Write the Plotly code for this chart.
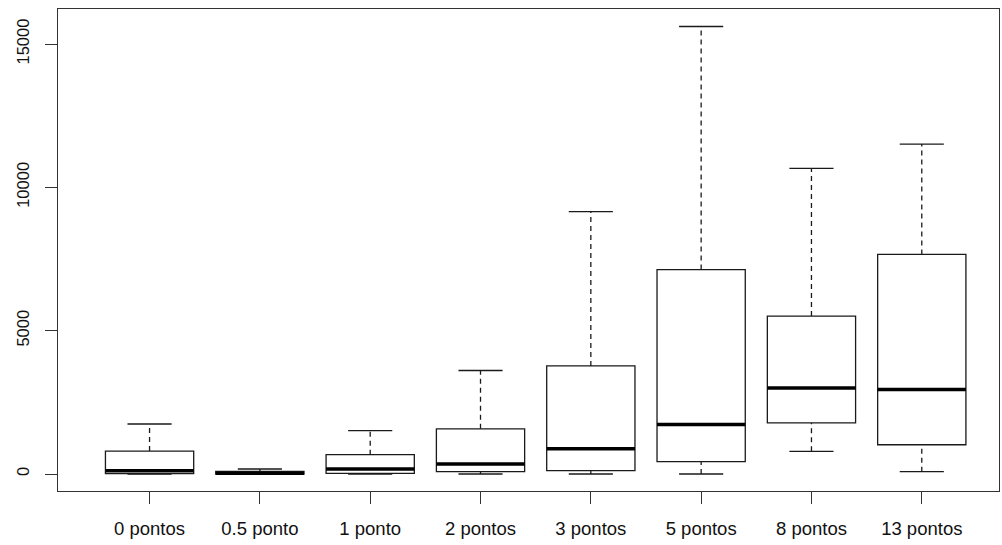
import plotly.graph_objects as go

# Group labels and five-number summaries per group
categories = ["0 pontos", "0.5 ponto", "1 ponto", "2 pontos",
              "3 pontos", "5 pontos", "8 pontos", "13 pontos"]
mins    = [0,    0,   0,    0,    0,    0,     790,   80]
q1s     = [10,   0,   25,   80,   115,  430,   1780,  1020]
medians = [115,  30,  175,  350,  885,  1730,  3000,  2950]
q3s     = [800,  95,  675,  1575, 3770, 7130,  5510,  7660]
maxs    = [1745, 175, 1510, 3610, 9150, 15610, 10660, 11510]

y_ticks = [0, 5000, 10000, 15000]

pos = list(range(len(categories)))
BOX_HALF = 0.4
CAP_HALF = 0.2
INK = "#1a1a1a"

fig = go.Figure()

# Boxes (hinges only; whiskers are drawn separately as dashed lines)
fig.add_trace(go.Box(
    x=pos, q1=q1s, median=medians, q3=q3s,
    lowerfence=q1s, upperfence=q3s,
    width=2 * BOX_HALF, whiskerwidth=0,
    fillcolor="white", line=dict(color=INK, width=1.3),
    boxpoints=False, showlegend=False, hoverinfo="skip",
))

# Dashed whiskers
wx, wy = [], []
for p, lo, a, b, hi in zip(pos, mins, q1s, q3s, maxs):
    wx += [p, p, None, p, p, None]
    wy += [b, hi, None, lo, a, None]
fig.add_trace(go.Scatter(x=wx, y=wy, mode="lines",
                         line=dict(color=INK, width=1.3, dash="5px,4px"),
                         showlegend=False, hoverinfo="skip"))

# Whisker caps
cx, cy = [], []
for p, lo, hi in zip(pos, mins, maxs):
    cx += [p - CAP_HALF, p + CAP_HALF, None, p - CAP_HALF, p + CAP_HALF, None]
    cy += [hi, hi, None, lo, lo, None]
fig.add_trace(go.Scatter(x=cx, y=cy, mode="lines",
                         line=dict(color=INK, width=1.3),
                         showlegend=False, hoverinfo="skip"))

# Thick median bars
mx, my = [], []
for p, m in zip(pos, medians):
    mx += [p - BOX_HALF, p + BOX_HALF, None]
    my += [m, m, None]
fig.add_trace(go.Scatter(x=mx, y=my, mode="lines",
                         line=dict(color="black", width=3.5),
                         showlegend=False, hoverinfo="skip"))

x_font = dict(family="Liberation Sans, Arial, sans-serif", size=18.5, color="#111")
y_font = dict(family="Liberation Sans, Arial, sans-serif", size=16.5, color="#111")

fig.update_layout(
    width=1002, height=545,
    margin=dict(l=58, r=3, t=9, b=54),
    paper_bgcolor="white", plot_bgcolor="white",
    showlegend=False,
    xaxis=dict(
        range=[-0.83, 7.70], tickmode="array", tickvals=pos, ticktext=categories,
        showgrid=False, zeroline=False,
        showline=True, mirror=True, linecolor="#333", linewidth=1.3,
        ticks="outside", ticklen=12, tickwidth=1.3, tickcolor="#333",
        tickfont=x_font, ticklabelstandoff=9,
    ),
    yaxis=dict(
        range=[-593, 16221], tickmode="array", tickvals=y_ticks,
        ticktext=[str(v) for v in y_ticks], tickangle=-90,
        showgrid=False, zeroline=False,
        showline=True, mirror=True, linecolor="#333", linewidth=1.3,
        ticks="outside", ticklen=12, tickwidth=1.3, tickcolor="#333",
        tickfont=y_font, ticklabelstandoff=9,
    ),
)

fig.write_html("out.html")
